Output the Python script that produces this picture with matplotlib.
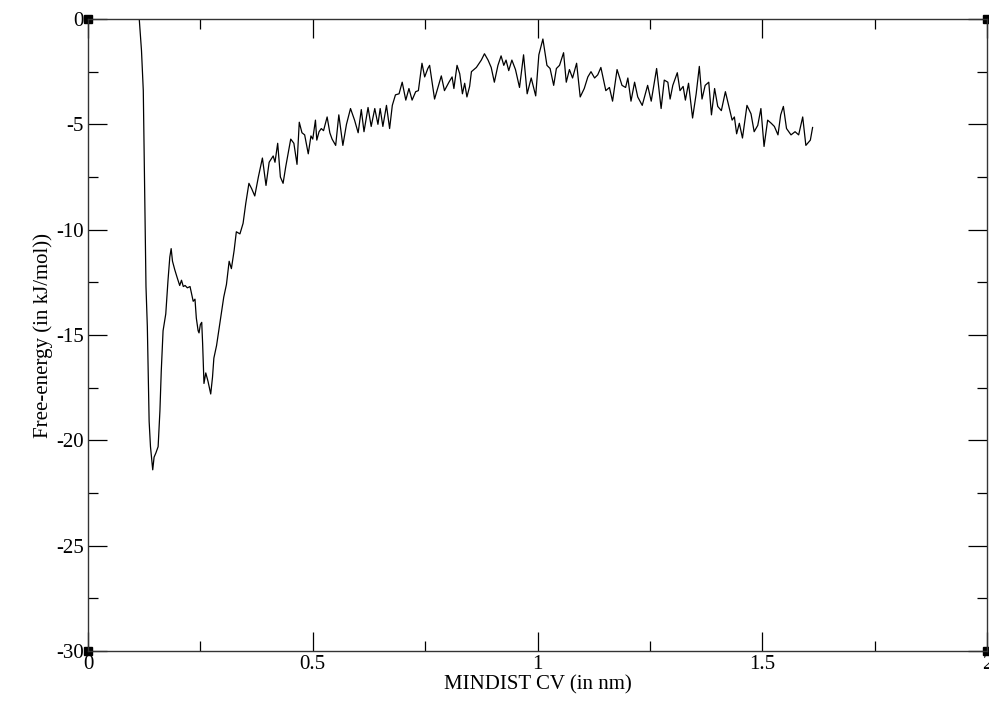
import matplotlib.pyplot as plt
import numpy as np

# Free-energy profile along the MINDIST collective variable
cv_nm = [
    0.112, 0.114, 0.119, 0.123, 0.125, 0.127, 0.129, 0.132, 0.134, 0.136,
    0.139, 0.144, 0.147, 0.151, 0.156, 0.160, 0.163, 0.167, 0.173, 0.178,
    0.182, 0.185, 0.188, 0.193, 0.198, 0.204, 0.208, 0.212, 0.216, 0.221,
    0.227, 0.230, 0.234, 0.238, 0.241, 0.245, 0.247, 0.250, 0.253, 0.255,
    0.258, 0.262, 0.267, 0.271, 0.273, 0.277, 0.280, 0.286, 0.293, 0.302,
    0.308, 0.314, 0.319, 0.325, 0.330, 0.338, 0.345, 0.351, 0.358, 0.364,
    0.371, 0.379, 0.388, 0.396, 0.403, 0.412, 0.416, 0.422, 0.428, 0.434,
    0.440, 0.445, 0.451, 0.458, 0.465, 0.470, 0.476, 0.482, 0.490, 0.496,
    0.500, 0.506, 0.509, 0.514, 0.519, 0.524, 0.532, 0.538, 0.543, 0.551,
    0.558, 0.567, 0.575, 0.584, 0.593, 0.601, 0.608, 0.614, 0.623, 0.630,
    0.638, 0.645, 0.650, 0.656, 0.664, 0.671, 0.677, 0.684, 0.692, 0.699,
    0.707, 0.714, 0.721, 0.729, 0.735, 0.743, 0.749, 0.756, 0.760, 0.771,
    0.786, 0.793, 0.803, 0.810, 0.814, 0.821, 0.827, 0.833, 0.838, 0.843,
    0.849, 0.853, 0.864, 0.875, 0.882, 0.890, 0.897, 0.904, 0.912, 0.919,
    0.925, 0.930, 0.936, 0.943, 0.951, 0.960, 0.969, 0.977, 0.986, 0.996,
    1.003, 1.012, 1.021, 1.028, 1.036, 1.042, 1.049, 1.058, 1.064, 1.071,
    1.078, 1.087, 1.095, 1.104, 1.112, 1.119, 1.127, 1.134, 1.141, 1.152,
    1.160, 1.167, 1.177, 1.188, 1.196, 1.201, 1.208, 1.216, 1.223, 1.233,
    1.245, 1.253, 1.265, 1.275, 1.282, 1.290, 1.295, 1.301, 1.311, 1.317,
    1.324, 1.329, 1.336, 1.345, 1.353, 1.360, 1.366, 1.373, 1.381, 1.387,
    1.394, 1.401, 1.409, 1.418, 1.427, 1.433, 1.438, 1.443, 1.449, 1.456,
    1.466, 1.475, 1.482, 1.490, 1.497, 1.504, 1.512, 1.520, 1.527, 1.535,
    1.541, 1.547, 1.554, 1.564, 1.573, 1.581, 1.590, 1.597, 1.603, 1.607,
    1.612,
]
free_energy = [
    0.5, 0.0, -1.5, -3.4, -6.6, -10.0, -12.7, -14.6, -16.8, -19.1,
    -20.3, -21.4, -20.8, -20.6, -20.3, -18.6, -16.7, -14.8, -14.0, -12.4,
    -11.3, -10.9, -11.5, -11.9, -12.25, -12.65, -12.4, -12.7, -12.65, -12.76,
    -12.7, -13.0, -13.4, -13.3, -14.2, -14.8, -14.9, -14.5, -14.4, -15.4,
    -17.3, -16.8, -17.2, -17.6, -17.8, -17.0, -16.1, -15.5, -14.5, -13.2,
    -12.6, -11.5, -11.85, -11.0, -10.1, -10.2, -9.7, -8.75, -7.8, -8.05,
    -8.4, -7.5, -6.6, -7.9, -6.8, -6.5, -6.8, -5.9, -7.5, -7.8,
    -7.0, -6.4, -5.7, -5.9, -6.9, -4.9, -5.4, -5.5, -6.4, -5.55,
    -5.7, -4.8, -5.75, -5.35, -5.2, -5.3, -4.65, -5.4, -5.7, -6.0,
    -4.55, -6.0, -5.0, -4.25, -4.8, -5.4, -4.3, -5.35, -4.2, -5.1,
    -4.25, -5.0, -4.25, -5.1, -4.1, -5.2, -4.1, -3.6, -3.55, -3.0,
    -3.85, -3.3, -3.85, -3.45, -3.4, -2.1, -2.75, -2.35, -2.2, -3.8,
    -2.7, -3.4, -3.0, -2.75, -3.3, -2.2, -2.6, -3.55, -3.05, -3.7,
    -3.2, -2.5, -2.3, -1.95, -1.65, -1.95, -2.3, -3.0, -2.2, -1.75,
    -2.2, -1.95, -2.45, -1.95, -2.4, -3.25, -1.7, -3.55, -2.8, -3.65,
    -1.7, -0.95, -2.2, -2.35, -3.15, -2.35, -2.2, -1.6, -3.0, -2.4,
    -2.8, -2.1, -3.7, -3.3, -2.75, -2.5, -2.8, -2.65, -2.3, -3.4,
    -3.25, -3.9, -2.4, -3.15, -3.25, -2.8, -3.9, -3.0, -3.7, -4.1,
    -3.15, -3.9, -2.35, -4.25, -2.9, -3.0, -3.8, -3.15, -2.55, -3.4,
    -3.2, -3.85, -3.05, -4.7, -3.55, -2.25, -3.8, -3.15, -3.0, -4.55,
    -3.3, -4.15, -4.35, -3.45, -4.25, -4.8, -4.65, -5.45, -4.95, -5.65,
    -4.1, -4.5, -5.35, -5.05, -4.25, -6.05, -4.8, -4.95, -5.1, -5.5,
    -4.55, -4.15, -5.2, -5.5, -5.35, -5.5, -4.65, -6.0, -5.85, -5.75,
    -5.15,
]

x_major = [0, 0.5, 1, 1.5, 2]
x_labels = ['0', '0.5', '1', '1.5', '2']
y_major = [0, -5, -10, -15, -20, -25, -30]
y_labels = ['0', '-5', '-10', '-15', '-20', '-25', '-30']

plt.rcParams['font.family'] = ['Liberation Serif', 'DejaVu Serif']

fig = plt.figure(figsize=(9.89, 7.10), dpi=100)
ax = fig.add_axes([88/989, 1 - 651/710, (987 - 88)/989, (651 - 19)/710])

ax.plot(cv_nm, free_energy, color='black', lw=0.9)

ax.set_xlim(0, 2)
ax.set_ylim(-30, 0)
ax.set_xticks(x_major)
ax.set_xticklabels(x_labels)
ax.set_yticks(y_major)
ax.set_yticklabels(y_labels)
ax.set_xticks(np.arange(0.25, 2, 0.5), minor=True)
ax.set_yticks(np.arange(-27.5, 0, 5), minor=True)

ax.tick_params(which='both', direction='in', top=True, right=True,
               labelsize=15, pad=3, width=0.9, color='black')
ax.tick_params(which='major', length=13.7)
ax.tick_params(which='minor', length=7.2)
for s in ax.spines.values():
    s.set_linewidth(1.0)
    s.set_color('#333333')

ax.set_xlabel('MINDIST CV (in nm)', fontsize=15, labelpad=1)
ax.set_ylabel('Free-energy (in kJ/mol))', fontsize=15, labelpad=2)

# xmgrace-like corner handles
for cx, cy in [(0, 0), (0, 1), (1, 0), (1, 1)]:
    ax.plot(cx, cy, marker='s', ms=6, color='black', transform=ax.transAxes,
            clip_on=False)

fig.savefig('out.png', dpi=100)
